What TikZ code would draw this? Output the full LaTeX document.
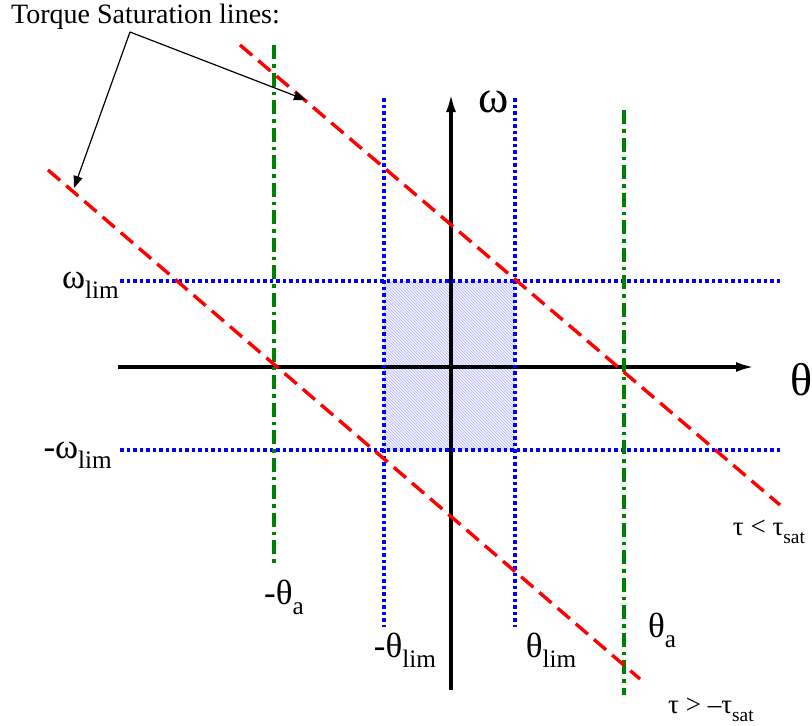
\documentclass[tikz,border=0pt]{standalone}
\usepackage{fontspec}
\setmainfont{Liberation Serif}
\usetikzlibrary{arrows.meta,patterns}

\newcommand{\lsub}[1]{\raisebox{-0.28em}{\scalebox{0.72}{#1}}}

\begin{document}
\begin{tikzpicture}[x=1pt,y=-1pt,
    axis/.style={line width=3.2pt,-{Latex[length=18pt,width=10pt]}},
    limline/.style={blue,line width=3.4pt,dash pattern=on 3.5pt off 3pt},
    aline/.style={green!50!black,line width=3.4pt,dash pattern=on 14pt off 5pt on 3.5pt off 5pt},
    satline/.style={red,line width=3.4pt,dash pattern=on 16pt off 8pt},
    pointer/.style={line width=1.2pt,-{Triangle[length=12pt,width=9pt]}},
    lbl/.style={inner sep=0pt,font=\fontsize{35}{37}\selectfont},
    small/.style={inner sep=0pt,font=\fontsize{27}{29}\selectfont}]
    \useasboundingbox (0,0) rectangle (812,726);

    % safe region
    \fill[blue!6] (384,281) rectangle (515,450);
    \fill[pattern=north west lines,pattern color=blue!28] (384,281) rectangle (515,450);

    % axes
    \coordinate (tl) at (118,367);
    \coordinate (tr) at (754,367);
    \coordinate (wb) at (451,690);
    \coordinate (wt) at (451,94);
    \draw[axis] (tl) -- (tr);
    \draw[axis] (wb) -- (wt);

    % limit lines
    \foreach \x in {384,515} {
        \draw[limline] (\x,98) -- (\x,627);
    }
    \foreach \y in {281,450} {
        \draw[limline] (120,\y) -- (780,\y);
    }
    \draw[aline] (274,45) -- (274,567);
    \draw[aline] (624,110) -- (624,695);

    % saturation lines
    \coordinate (su) at (240,45);
    \coordinate (sue) at (780,505);
    \coordinate (sl) at (48,170);
    \coordinate (sle) at (640,679);
    \draw[satline] (su) -- (sue);
    \draw[satline] (sl) -- (sle);

    % labels
    \node[inner sep=0pt,anchor=west] (title) at (11,17) {\fontsize{28}{30}\selectfont Torque Saturation lines:};
    \coordinate (fork) at (130,32);
    \coordinate (hitu) at (306,100);
    \coordinate (hitl) at (74,188);
    \draw[pointer] (fork) -- (hitu);
    \draw[pointer] (fork) -- (hitl);

    \node[lbl] (omega) at (494,102) {\fontsize{46}{48}\selectfont ω};
    \node[lbl,anchor=west] (theta) at (790,380) {\fontsize{46}{48}\selectfont θ};
    \node[lbl,anchor=east] (wlim) at (119,285) {ω\lsub{lim}};
    \node[lbl,anchor=east] (nwlim) at (112,455) {-ω\lsub{lim}};
    \node[lbl] (nta) at (284,597) {-θ\lsub{a}};
    \node[lbl] (ntlim) at (405,650) {-θ\lsub{lim}};
    \node[lbl] (tlim) at (551,650) {θ\lsub{lim}};
    \node[lbl] (ta) at (662,630) {θ\lsub{a}};
    \node[small] (tsat) at (769,532) {τ < τ\lsub{sat}};
    \node[small] (ntsat) at (711,710) {τ > –τ\lsub{sat}};
\end{tikzpicture}
\end{document}
